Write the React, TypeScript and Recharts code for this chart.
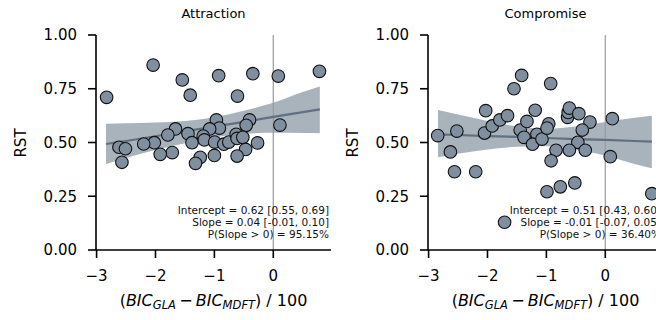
import { ComposedChart, Scatter, Line, Area, XAxis, YAxis, ReferenceLine } from 'recharts';

// points
const attractionX = [-2.83, -2.04, -1.545, -1.41, -0.927, -0.347, 0.085, 0.784, -0.608, 0.113, -0.966, -0.915, -0.404, -0.46, -1.66, -1.79, -1.448, -1.38, -1.08, -1.19, -1.17, -0.995, -0.84, -0.756, -0.63, -0.614, -0.517, -0.267, -0.47, -0.614, -1.0, -1.24, -1.32, -1.715, -1.92, -2.02, -2.2, -2.62, -2.51, -2.57];
const attractionY = [0.71, 0.86, 0.791, 0.72, 0.811, 0.82, 0.809, 0.831, 0.716, 0.581, 0.605, 0.567, 0.605, 0.58, 0.563, 0.535, 0.541, 0.499, 0.563, 0.53, 0.512, 0.502, 0.492, 0.502, 0.538, 0.519, 0.524, 0.498, 0.468, 0.437, 0.44, 0.431, 0.403, 0.453, 0.445, 0.499, 0.493, 0.478, 0.471, 0.408];

const compromiseX = [-2.845, -2.63, -2.52, -2.03, -2.05, -1.92, -1.79, -1.66, -1.55, -1.42, -1.445, -1.33, -1.38, -1.19, -1.16, -1.235, -1.075, -0.96, -0.99, -0.927, -0.836, -0.92, -0.64, -0.63, -0.61, -0.449, -0.26, -0.39, -0.466, -0.61, -0.34, 0.12, 0.085, -2.56, -2.2, -0.99, -0.763, -0.517, 0.79, -1.71];
const compromiseY = [0.532, 0.456, 0.553, 0.648, 0.544, 0.577, 0.605, 0.625, 0.75, 0.812, 0.558, 0.598, 0.524, 0.65, 0.538, 0.492, 0.516, 0.587, 0.567, 0.774, 0.464, 0.415, 0.617, 0.64, 0.66, 0.634, 0.595, 0.558, 0.501, 0.464, 0.464, 0.611, 0.434, 0.364, 0.364, 0.271, 0.294, 0.312, 0.262, 0.129];

// regression line + band, sampled along x
const bandX = [-2.84, -2.5, -2, -1.5, -1, -0.5, 0, 0.5, 0.79];
const attractionFit = [0.493, 0.507, 0.529, 0.552, 0.574, 0.596, 0.619, 0.641, 0.654];
const attractionLo = [0.4, 0.428, 0.465, 0.497, 0.525, 0.54, 0.545, 0.544, 0.543];
const attractionHi = [0.587, 0.589, 0.593, 0.6, 0.618, 0.648, 0.685, 0.735, 0.76];
const compromiseFit = [0.538, 0.535, 0.53, 0.526, 0.521, 0.516, 0.512, 0.507, 0.504];
const compromiseLo = [0.431, 0.448, 0.468, 0.48, 0.482, 0.468, 0.44, 0.4, 0.38];
const compromiseHi = [0.651, 0.63, 0.6, 0.575, 0.565, 0.575, 0.595, 0.615, 0.625];

const xTicks = [-3, -2, -1, 0];
const yTicks = [0, 0.25, 0.5, 0.75, 1];

const attractionStats = ['Intercept = 0.62 [0.55, 0.69]', 'Slope = 0.04 [-0.01, 0.10]', 'P(Slope > 0) = 95.15%'];
const compromiseStats = ['Intercept = 0.51 [0.43, 0.60]', 'Slope = -0.01 [-0.07, 0.05]', 'P(Slope > 0) = 36.40%'];

const FONT = '"DejaVu Sans", sans-serif';
const axisLine = { stroke: '#000', strokeWidth: 1.6 };

const fmtX = (v: number) => (v < 0 ? '\u2212' + Math.abs(v) : String(v));

function Dot(props: any) {
  return <circle cx={props.cx} cy={props.cy} r={6.3} fill="#7f8fa0" stroke="#111" strokeWidth={1.1} />;
}

function Panel({ left, title, xs, ys, fit, lo, hi, stats }: any) {
  const points = xs.map((x: number, i: number) => ({ x, y: ys[i] }));
  const band = bandX.map((x, i) => ({ x, fit: fit[i], band: [lo[i], hi[i]] }));
  return (
    <div style={{ position: 'absolute', left, top: 0, width: 340, height: 320 }}>
      <ComposedChart width={340} height={320} data={band} margin={{ top: 35, right: 9, bottom: 0, left: 36 }}>
        <XAxis
          dataKey="x"
          type="number"
          domain={[-3.01, 0.98]}
          allowDataOverflow
          ticks={xTicks}
          tickFormatter={fmtX}
          height={70}
          tickSize={8}
          tickMargin={12}
          axisLine={axisLine}
          tickLine={axisLine}
          tick={{ fill: '#000', fontSize: 15, fontFamily: FONT }}
        />
        <YAxis
          type="number"
          domain={[0, 1]}
          ticks={yTicks}
          tickFormatter={(v: number) => v.toFixed(2)}
          width={60}
          tickSize={8}
          tickMargin={11}
          axisLine={axisLine}
          tickLine={axisLine}
          tick={{ fill: '#000', fontSize: 15, fontFamily: FONT }}
        />
        <ReferenceLine x={0} stroke="#9a9a9a" strokeWidth={1.2} />
        <Area dataKey="band" type="monotone" stroke="none" fill="#708090" fillOpacity={0.6} isAnimationActive={false} />
        <Line dataKey="fit" type="linear" stroke="#5f7081" strokeWidth={2.2} dot={false} isAnimationActive={false} />
        <Scatter data={points} dataKey="y" shape={<Dot />} isAnimationActive={false} />
      </ComposedChart>
      <div style={{ position: 'absolute', left: 96, width: 235, top: 5, lineHeight: '18px', textAlign: 'center', fontSize: 13 }}>
        {title}
      </div>
      <div style={{ position: 'absolute', left: 21, top: 143, transform: 'translate(-50%, -50%) rotate(-90deg)', fontSize: 15, whiteSpace: 'nowrap' }}>
        RST
      </div>
      <div style={{ position: 'absolute', left: 96, width: 235, top: 291, lineHeight: '20px', textAlign: 'center', fontSize: 16, whiteSpace: 'nowrap' }}>
        (<i>BIC</i><i style={{ fontSize: 11.5, position: 'relative', top: 3 }}>GLA</i>{'\u2009\u2212\u2009'}<i>BIC</i><i style={{ fontSize: 11.5, position: 'relative', top: 3 }}>MDFT</i>) / 100
      </div>
      <div style={{ position: 'absolute', left: 29, width: 300, top: 204, lineHeight: '12px', textAlign: 'right', fontSize: 10.5, color: '#111', whiteSpace: 'nowrap' }}>
        {stats.map((s: string) => (
          <div key={s}>{s}</div>
        ))}
      </div>
    </div>
  );
}

export default function App() {
  return (
    <div style={{ position: 'absolute', left: 0, top: 0, width: 656, height: 320, overflow: 'hidden', background: '#fff', fontFamily: FONT }}>
      <Panel left={0} title="Attraction" xs={attractionX} ys={attractionY} fit={attractionFit} lo={attractionLo} hi={attractionHi} stats={attractionStats} />
      <Panel left={332} title="Compromise" xs={compromiseX} ys={compromiseY} fit={compromiseFit} lo={compromiseLo} hi={compromiseHi} stats={compromiseStats} />
    </div>
  );
}
